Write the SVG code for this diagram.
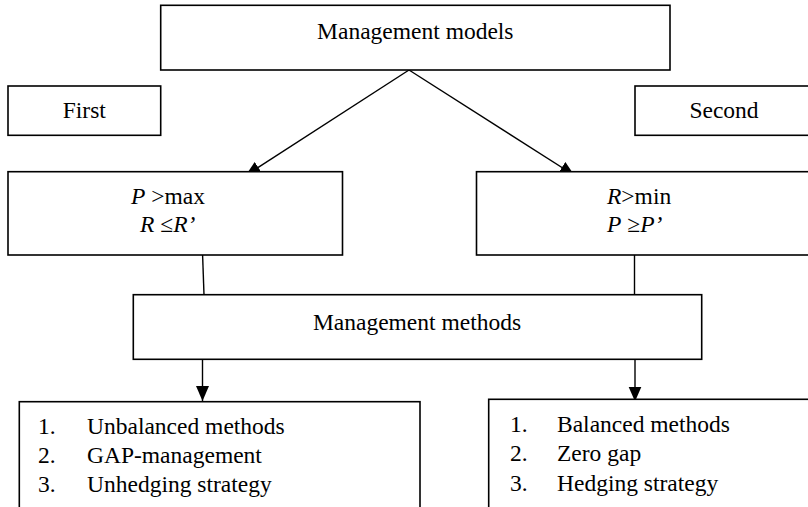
<svg xmlns="http://www.w3.org/2000/svg" width="808" height="507" viewBox="0 0 808 507">
  <defs>
    <marker id="head" markerUnits="userSpaceOnUse" viewBox="0 0 16 14" markerWidth="16" markerHeight="14" refX="15" refY="6.5" orient="auto">
      <path d="M0,0 L15,6.5 L0,13 Z" fill="#000"/>
    </marker>
  </defs>
  <style>
    .box{fill:#fff;stroke:#000;stroke-width:1.6}
    .lbl{font-family:"Liberation Serif","Times New Roman",serif;font-size:23.5px;fill:#000}
    .mid{text-anchor:middle}
    .i{font-style:italic}
    .wire{stroke:#000;stroke-width:1.4;fill:none}
  </style>

  <!-- connectors (drawn first so the boxes clip the arrow tips) -->
  <g id="connectors">
    <line class="wire" x1="409" y1="70" x2="245.6" y2="175.5" marker-end="url(#head)"/>
    <line class="wire" x1="409" y1="70" x2="574.5" y2="175.5" marker-end="url(#head)"/>
    <line class="wire" x1="202.6" y1="255" x2="204" y2="294.7"/>
    <line class="wire" x1="634.5" y1="252" x2="634.5" y2="294.7"/>
    <line class="wire" x1="202.5" y1="356" x2="202.5" y2="401" marker-end="url(#head)"/>
    <line class="wire" x1="635" y1="359" x2="635" y2="401.5" marker-end="url(#head)"/>
  </g>

  <g id="models">
    <rect class="box" x="160.7" y="5.3" width="509.3" height="64.7"/>
    <text class="lbl mid" x="415.3" y="39">Management models</text>
  </g>

  <g id="first">
    <rect class="box" x="8" y="86" width="152.7" height="49.3"/>
    <text class="lbl mid" x="84.3" y="118">First</text>
  </g>

  <g id="second">
    <rect class="box" x="635" y="86" width="178" height="49.3"/>
    <text class="lbl mid" x="724" y="118">Second</text>
  </g>

  <g id="model-first">
    <rect class="box" x="8" y="171.7" width="334.5" height="83.3"/>
    <text class="lbl" x="131" y="204"><tspan class="i">P</tspan> &gt;max</text>
    <text class="lbl" x="140" y="232"><tspan class="i">R</tspan> ≤<tspan class="i">R’</tspan></text>
  </g>

  <g id="model-second">
    <rect class="box" x="476.5" y="171.7" width="336" height="83.3"/>
    <text class="lbl" x="607" y="204"><tspan class="i">R</tspan>&gt;min</text>
    <text class="lbl" x="607" y="232"><tspan class="i">P</tspan> ≥<tspan class="i">P’</tspan></text>
  </g>

  <g id="methods">
    <rect class="box" x="133.3" y="294.7" width="568.4" height="64.6"/>
    <text class="lbl mid" x="417" y="330">Management methods</text>
  </g>

  <g id="methods-first">
    <rect class="box" x="19.3" y="401.7" width="400.7" height="110"/>
    <text class="lbl" x="38" y="434">1.</text>
    <text class="lbl" x="87" y="434">Unbalanced methods</text>
    <text class="lbl" x="38" y="463">2.</text>
    <text class="lbl" x="87" y="463">GAP-management</text>
    <text class="lbl" x="38" y="492">3.</text>
    <text class="lbl" x="87" y="492">Unhedging strategy</text>
  </g>

  <g id="methods-second">
    <rect class="box" x="488.7" y="399.3" width="330" height="115"/>
    <text class="lbl" x="510" y="432">1.</text>
    <text class="lbl" x="557" y="432">Balanced methods</text>
    <text class="lbl" x="510" y="461">2.</text>
    <text class="lbl" x="557" y="461">Zero gap</text>
    <text class="lbl" x="510" y="491">3.</text>
    <text class="lbl" x="557" y="491">Hedging strategy</text>
  </g>
</svg>
